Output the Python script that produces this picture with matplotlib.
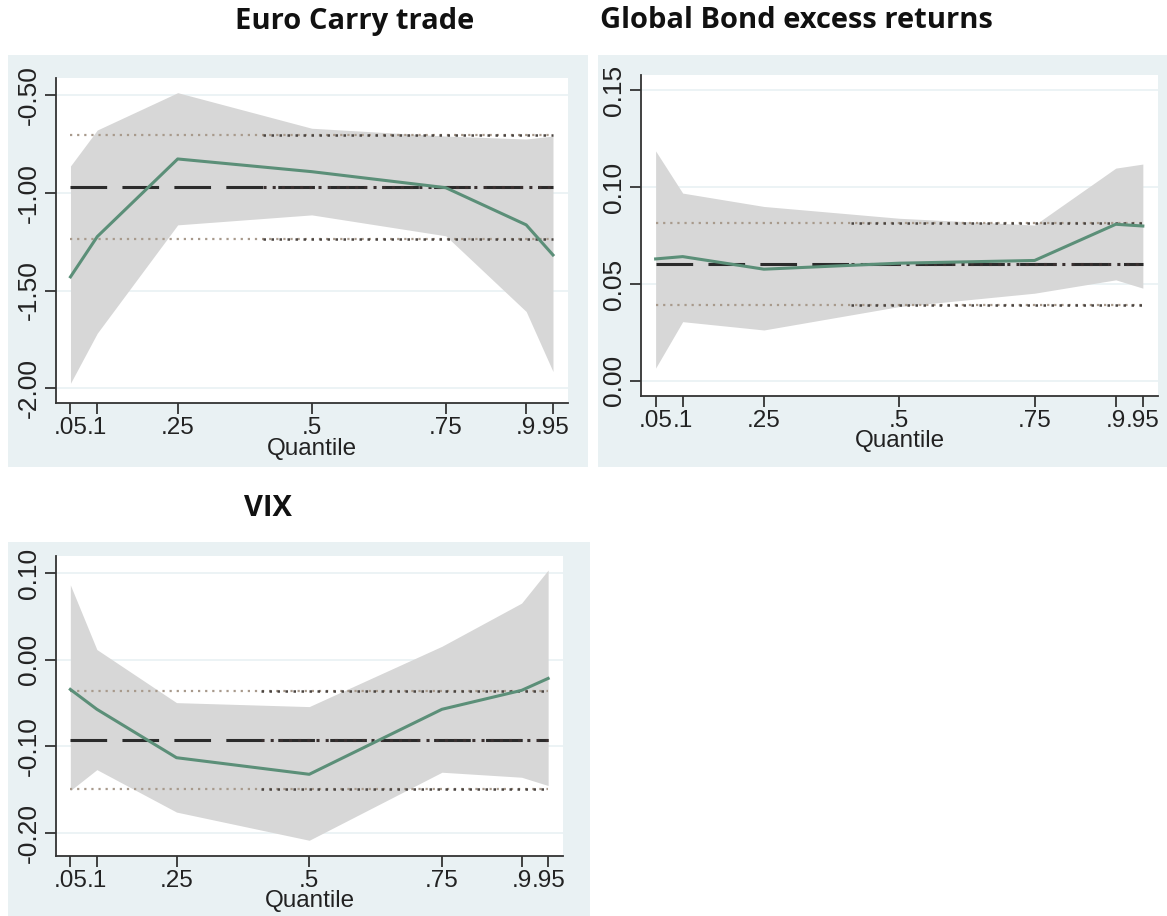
import matplotlib.pyplot as plt
from matplotlib.patches import Rectangle

# quantiles used in the regressions
quantiles = [0.05, 0.1, 0.25, 0.5, 0.75, 0.9, 0.95]
tick_labels = ['.05', '.1', '.25', '.5', '.75', '.9', '.95']

# Euro Carry trade
carry_coef = [-1.43, -1.224, -0.827, -0.892, -0.974, -1.164, -1.318]
carry_hi = [-0.863, -0.679, -0.488, -0.670, -0.71, -0.725, -0.71]
carry_lo = [-1.974, -1.718, -1.164, -1.113, -1.22, -1.607, -1.914]
carry_ols = [-0.969, -0.703, -1.236]  # estimate, upper, lower

# Global Bond excess returns
bond_coef = [0.063, 0.0642, 0.0577, 0.0608, 0.0622, 0.0809, 0.080]
bond_hi = [0.1188, 0.097, 0.0901, 0.084, 0.0805, 0.1099, 0.112]
bond_lo = [0.0066, 0.0306, 0.0263, 0.0384, 0.0453, 0.0522, 0.0479]
bond_ols = [0.0604, 0.0814, 0.0393]

# VIX
vix_coef = [-0.0343, -0.0573, -0.1133, -0.1325, -0.0573, -0.0354, -0.0216]
vix_hi = [0.0866, 0.0118, -0.0496, -0.0542, 0.0156, 0.0655, 0.1038]
vix_lo = [-0.1513, -0.1271, -0.1762, -0.2088, -0.1301, -0.1359, -0.1455]
vix_ols = [-0.0926, -0.0358, -0.150]

overlap_start = 0.41

W, H = 1167, 916
fig = plt.figure(figsize=(W / 100, H / 100), dpi=100)
fig.patch.set_facecolor('white')
plt.rcParams['font.family'] = ['Liberation Sans', 'DejaVu Sans']

BG = '#e9f1f3'


def px_rect(x0, y0, x1, y1):
    return [x0 / W, 1 - y1 / H, (x1 - x0) / W, (y1 - y0) / H]


def panel_bg(x0, y0, x1, y1):
    l, b, w, h = px_rect(x0, y0, x1, y1)
    fig.patches.append(Rectangle((l, b), w, h, transform=fig.transFigure,
                                 facecolor=BG, edgecolor='none', zorder=-10))


def draw(box, coef, hi, lo, ols, yticks, yfmt, ylim):
    ax = fig.add_axes(px_rect(*box))
    ax.set_facecolor('white')
    for y in yticks:
        ax.axhline(y, color=BG, lw=1.2, zorder=1)
    ax.fill_between(quantiles, lo, hi, color='#d7d7d7', lw=0, zorder=2)
    x0, x1 = quantiles[0], quantiles[-1]
    # OLS estimate and its confidence bounds
    ax.plot([x0, x1], [ols[0]] * 2, color='#2b2b2b', lw=2.2,
            dashes=(12, 5), zorder=3)
    ax.plot([overlap_start, x1], [ols[0]] * 2, color='#3a3030', lw=2.2,
            ls=(0, (1, 2)), zorder=3)
    for v in ols[1:]:
        ax.plot([x0, x1], [v, v], color='#a89a8c', lw=1.6,
                ls=(0, (1, 2.2)), zorder=3)
        ax.plot([overlap_start, x1], [v, v], color='#4a4440', lw=1.8,
                ls=(0, (1, 2.2)), zorder=3)
    ax.plot(quantiles, coef, color='#5b8f78', lw=2.2, zorder=4)
    ax.set_xlim(0.023, 0.978)
    ax.set_ylim(*ylim)
    ax.set_xticks(quantiles)
    ax.set_xticklabels(tick_labels)
    ax.set_yticks(yticks)
    ax.set_yticklabels([yfmt.format(v) for v in yticks], rotation=90,
                       va='center')
    ax.tick_params(axis='both', direction='out', length=8, width=1.3,
                   color='#333333', labelsize=19, labelcolor='#222222', pad=3)
    ax.tick_params(axis='x', pad=2, labelsize=17.5)
    ax.set_xlabel('Quantile', fontsize=17.5, color='#222222', labelpad=-1)
    for s in ('top', 'right'):
        ax.spines[s].set_visible(False)
    for s in ('left', 'bottom'):
        ax.spines[s].set_color('#333333')
        ax.spines[s].set_linewidth(1.3)
    return ax


panel_bg(8, 55, 588, 467)
panel_bg(598, 55, 1167, 467)
panel_bg(8, 542, 590, 916)

draw((56, 78, 568, 403), carry_coef, carry_hi, carry_lo, carry_ols,
     [-2.0, -1.5, -1.0, -0.5], '{:.2f}', (-2.075, -0.413))
draw((641, 75, 1158, 396), bond_coef, bond_hi, bond_lo, bond_ols,
     [0.0, 0.05, 0.10, 0.15], '{:.2f}', (-0.0078, 0.158))
draw((56, 556, 563, 856), vix_coef, vix_hi, vix_lo, vix_ols,
     [-0.2, -0.1, 0.0, 0.1], '{:.2f}', (-0.227, 0.12))

title_kw = dict(fontsize=21, fontweight='bold', family=['Open Sans', 'DejaVu Sans'],
                ha='center', va='center', color='#111111')
fig.text(355 / W, 1 - 21 / H, 'Euro Carry trade', **title_kw)
fig.text(796 / W, 1 - 21 / H, 'Global Bond excess returns', **title_kw)
fig.text(268 / W, 1 - 509 / H, 'VIX', **title_kw)

fig.savefig('out.png', dpi=100)
